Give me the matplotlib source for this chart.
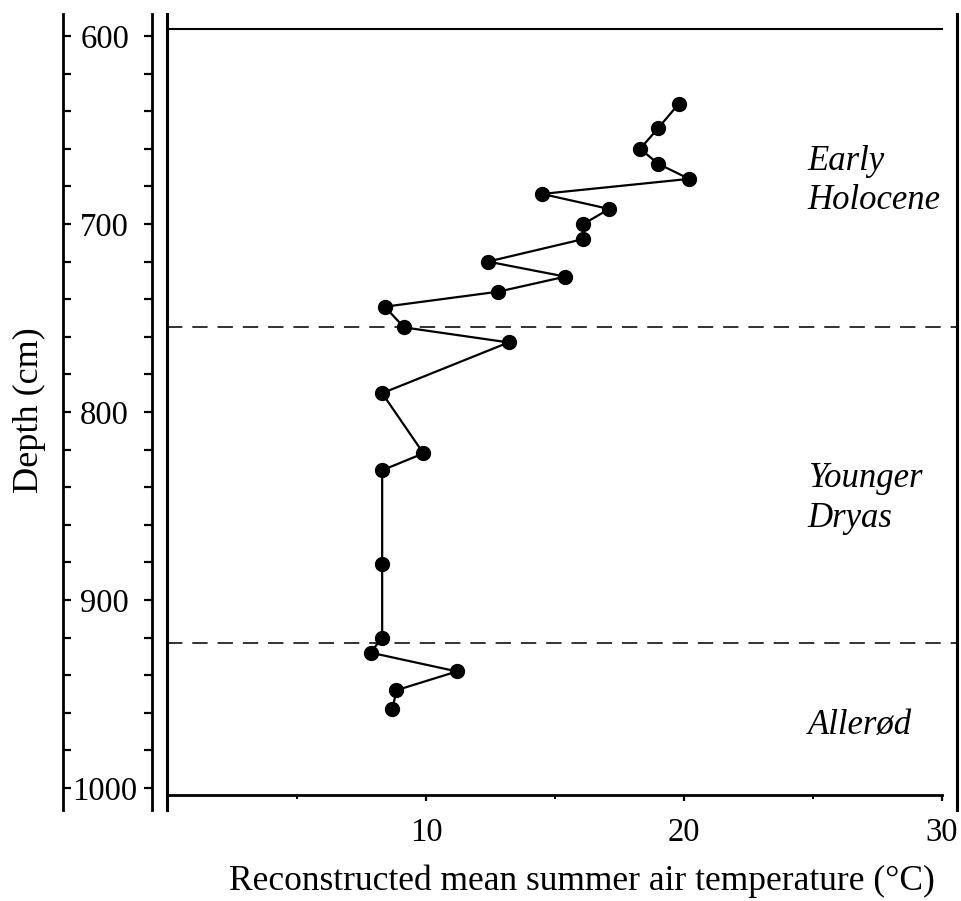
import numpy as np
import matplotlib
matplotlib.use('Agg')
import matplotlib.pyplot as plt
from matplotlib.ticker import FixedLocator, MultipleLocator

plt.rcParams['font.family'] = ['Liberation Serif', 'DejaVu Serif']

# ── data ───────────────────────────────────────────────────────────────────
depth = [636, 649, 660, 668, 676, 684, 692, 700, 708, 720, 728, 736, 744,
         755, 763, 790, 822, 831, 881, 920, 928, 938, 948, 958]          # cm
temp = [19.8, 19.0, 18.3, 19.0, 20.2, 14.5, 17.1, 16.1, 16.1, 12.4, 15.4,
        12.8, 8.4, 9.15, 13.2, 8.3, 9.9, 8.3, 8.3, 8.3, 7.85, 11.2, 8.85, 8.7]  # deg C

zone_bounds = [755, 923]
zone_names = ['Early\nHolocene', 'Younger\nDryas', 'Allerød']
zone_label_depth = [677, 846, 967]
zone_label_x = 24.8

depth_ticks = [600, 700, 800, 900, 1000]
temp_ticks = [10, 20, 30]

# ── layout (pixels of a 962x901 canvas) ───────────────────────────────────
W, H = 962, 901
fig = plt.figure(figsize=(W / 100, H / 100), dpi=100)

# depth -> pixel: 600 cm at y=36 px, 1.88 px per cm
y_top_px, y_bot_px = 14, 810
ax_b = 1 - y_bot_px / H
ax_h = (y_bot_px - y_top_px) / H
d_top = 600 + (y_top_px - 36) / 1.88
d_bot = 600 + (y_bot_px - 36) / 1.88

ax = fig.add_axes([167 / W, ax_b, (957 - 167) / W, ax_h])
axd = fig.add_axes([63 / W, ax_b, (152 - 63) / W, ax_h])

# ── depth scale (separate ruler on the left) ──────────────────────────────
axd.set_ylim(d_bot, d_top)
axd.set_xticks([])
axd.spines['top'].set_visible(False)
axd.spines['bottom'].set_visible(False)
for s in ('left', 'right'):
    axd.spines[s].set_linewidth(2.0)
axd.yaxis.set_major_locator(FixedLocator(depth_ticks))
axd.yaxis.set_minor_locator(MultipleLocator(20))
axd.tick_params(axis='y', which='both', left=True, right=True, direction='in',
                length=6, width=1.6, labelleft=True, labelright=False)
axd.tick_params(axis='y', which='major', labelsize=23.5, pad=-30)
for lab in axd.get_yticklabels():
    lab.set_ha('center')
axd.patch.set_visible(False)

# ── main panel ────────────────────────────────────────────────────────────
ax.plot(temp, depth, color='black', lw=1.6, marker='o', ms=10,
        markerfacecolor='black', markeredgecolor='black', clip_on=False, zorder=3)

for zb in zone_bounds:
    ax.axhline(zb, color='#222222', lw=1.3, dashes=(8.5, 5.5), zorder=2)

for name, yd in zip(zone_names, zone_label_depth):
    ax.text(zone_label_x, yd, name, fontsize=25, style='italic',
            ha='left', va='center', linespacing=1.25)

ax.set_xlim(-0.04, 30 + 15 / 25.8)
ax.set_ylim(d_bot, d_top)

ax.spines['top'].set_position(('data', 600 + (29 - 36) / 1.88))
ax.spines['bottom'].set_position(('data', 600 + (795 - 36) / 1.88))
ax.spines['top'].set_bounds(0, 30)
ax.spines['bottom'].set_bounds(0, 30)
ax.spines['top'].set_linewidth(1.5)
ax.spines['bottom'].set_linewidth(2.0)
ax.spines['left'].set_linewidth(2.2)
ax.spines['right'].set_linewidth(2.2)

ax.set_yticks([])
ax.xaxis.set_major_locator(FixedLocator(temp_ticks))
ax.xaxis.set_minor_locator(FixedLocator([5, 15, 25]))
ax.tick_params(axis='x', which='major', direction='out', length=4.5, width=1.6,
               labelsize=23.5, pad=12)
ax.tick_params(axis='x', which='minor', direction='out', length=3, width=1.4)

fig.text(29 / W, 1 - 410 / H, 'Depth (cm)', rotation=90, ha='center',
         va='center', fontsize=26)
fig.text(582 / W, 1 - 890 / H, 'Reconstructed mean summer air temperature (°C)',
         ha='center', va='baseline', fontsize=25.5)

fig.savefig('out.png', dpi=100)
